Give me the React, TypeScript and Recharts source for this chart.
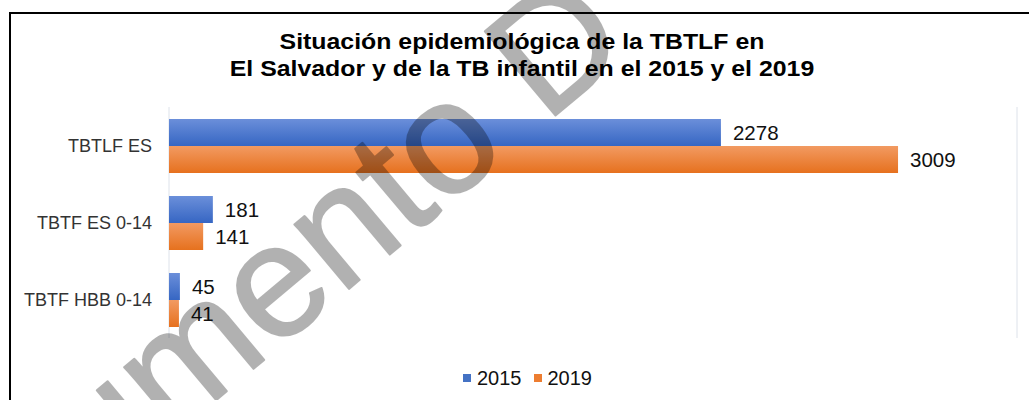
import React from 'react'
import {
  BarChart, Bar, XAxis, YAxis, CartesianGrid, LabelList
} from 'recharts'

const categories = ['TBTLF ES', 'TBTF ES 0-14', 'TBTF HBB 0-14']
const values2015 = [2278, 181, 45]
const values2019 = [3009, 141, 41]
const seriesNames = ['2015', '2019']
const xTicks = [0, 500, 1000, 1500, 2000, 2500, 3000, 3500]
const titleLines = [
  'Situación epidemiológica de la TBTLF en',
  'El Salvador y de la TB infantil en el 2015 y el 2019',
]

const FONT = '"Liberation Sans", Arial, sans-serif'
const BLUE = '#4472c4'
const ORANGE = '#ed7d31'

const data = categories.map((name, i) => ({
  name,
  y2015: values2015[i],
  y2019: values2019[i],
}))

const legendColors = [BLUE, ORANGE]

export default function App() {
  return (
    <div style={{
      position: 'fixed', left: 0, top: 0, width: 1029, height: 400,
      overflow: 'hidden', background: '#fff', fontFamily: FONT
    }}>
      {/* frame */}
      <div style={{
        position: 'absolute', left: 9, top: 12, width: 1200, height: 600,
        borderLeft: '2px solid #000', borderTop: '2px solid #000'
      }} />

      {/* title */}
      <div style={{
        position: 'absolute', left: 522, top: 28, whiteSpace: 'nowrap',
        transform: 'translateX(-50%) scaleX(1.13)', textAlign: 'center',
        fontSize: 22, fontWeight: 700, lineHeight: '27px', color: '#000'
      }}>
        {titleLines.map((t) => <div key={t}>{t}</div>)}
      </div>

      <div style={{ position: 'absolute', left: 0, top: 0 }}>
        <BarChart
          width={1029}
          height={400}
          data={data}
          layout="vertical"
          margin={{ top: 107, right: 12, bottom: 62, left: 0 }}
          barCategoryGap={12}
          barGap={0}
        >
          <defs>
            <linearGradient id="gBlue" x1="0" y1="0" x2="0" y2="1">
              <stop offset="0%" stopColor="#6b8fda" />
              <stop offset="100%" stopColor="#3666c3" />
            </linearGradient>
            <linearGradient id="gOrange" x1="0" y1="0" x2="0" y2="1">
              <stop offset="0%" stopColor="#f29a62" />
              <stop offset="100%" stopColor="#e6711e" />
            </linearGradient>
          </defs>
          <CartesianGrid horizontal={false} stroke="#dde2ea" strokeWidth={1} />
          <XAxis
            type="number"
            domain={[0, 3500]}
            ticks={xTicks}
            tick={false}
            tickLine={false}
            axisLine={false}
            height={0}
          />
          <YAxis
            type="category"
            dataKey="name"
            width={169}
            tickLine={false}
            axisLine={false}
            tickSize={0}
            tickMargin={17}
            tick={{ fill: '#333', fontSize: 18, fontFamily: FONT }}
          />
          <Bar dataKey="y2015" name="2015" fill="url(#gBlue)" isAnimationActive={false}>
            <LabelList dataKey="y2015" position="right" offset={12}
              style={{ fill: '#111', fontSize: 20.5, fontFamily: FONT }} />
          </Bar>
          <Bar dataKey="y2019" name="2019" fill="url(#gOrange)" isAnimationActive={false}>
            <LabelList dataKey="y2019" position="right" offset={12}
              style={{ fill: '#111', fontSize: 20.5, fontFamily: FONT }} />
          </Bar>
        </BarChart>
      </div>

      {/* legend */}
      <div style={{
        position: 'absolute', left: 463, top: 366, display: 'flex',
        alignItems: 'center', fontSize: 20, color: '#111', lineHeight: '24px'
      }}>
        {seriesNames.map((s, i) => (
          <div key={s} style={{ display: 'flex', alignItems: 'center', marginRight: 12 }}>
            <span style={{ width: 8, height: 8, background: legendColors[i], marginRight: 6 }} />
            <span>{s}</span>
          </div>
        ))}
      </div>

      {/* watermark */}
      <svg width={1029} height={400} style={{ position: 'absolute', left: 0, top: 0, pointerEvents: 'none' }}>
        <g opacity={0.3} transform="translate(511,153) rotate(-40)"
          style={{ fontFamily: FONT, fontSize: 160 }}>
          <text x={0} y={0} textAnchor="end" fill="#000" stroke="#000" strokeWidth={2} strokeLinejoin="round">
            Documento
          </text>
          <text x={45} y={0} fill="#000" stroke="#000" strokeWidth={2} strokeLinejoin="round">
            D
          </text>
        </g>
      </svg>
    </div>
  )
}
